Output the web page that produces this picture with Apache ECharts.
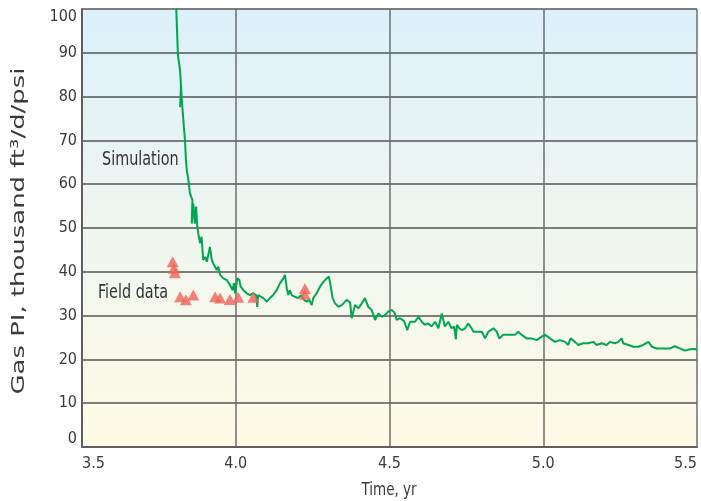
<!DOCTYPE html>
<html>
<head>
<meta charset="utf-8">
<script src="https://cdn.jsdelivr.net/npm/echarts@6/dist/echarts.min.js"></script>
<style>
  html, body { margin: 0; padding: 0; background: #ffffff; }
  #chart { width: 701px; height: 501px; }
</style>
</head>
<body>
<div id="chart"></div>
<script>
// Simulated gas productivity index: time (yr) and PI (thousand ft3/d/psi)
var simTime = [
  3.806, 3.812, 3.815, 3.819, 3.822, 3.819, 3.822, 3.825, 3.832, 3.835, 3.838, 3.841,
  3.846, 3.851, 3.859, 3.857, 3.862, 3.867, 3.871, 3.875, 3.878, 3.884, 3.889, 3.894,
  3.900, 3.906, 3.916, 3.922, 3.927, 3.933, 3.938, 3.943, 3.949, 3.960, 3.971, 3.981,
  3.990, 3.994, 3.998, 4.005, 4.012, 4.016, 4.025, 4.036, 4.046, 4.057, 4.066, 4.070,
  4.073, 4.079, 4.090, 4.101, 4.111, 4.122, 4.133, 4.144, 4.155, 4.160, 4.166, 4.171,
  4.176, 4.182, 4.193, 4.203, 4.214, 4.222, 4.231, 4.239, 4.247, 4.252, 4.263, 4.274,
  4.285, 4.296, 4.303, 4.309, 4.315, 4.323, 4.334, 4.345, 4.350, 4.361, 4.366, 4.372,
  4.377, 4.388, 4.399, 4.410, 4.420, 4.431, 4.442, 4.453, 4.464, 4.475, 4.485, 4.496,
  4.507, 4.518, 4.523, 4.534, 4.547, 4.558, 4.567, 4.583, 4.594, 4.605, 4.615, 4.626,
  4.637, 4.648, 4.659, 4.670, 4.680, 4.691, 4.702, 4.710, 4.716, 4.719, 4.727, 4.735,
  4.740, 4.746, 4.756, 4.767, 4.773, 4.784, 4.789, 4.800, 4.805, 4.811, 4.821, 4.838,
  4.849, 4.857, 4.870, 4.892, 4.908, 4.919, 4.930, 4.946, 4.962, 4.979, 4.995, 5.006,
  5.022, 5.038, 5.054, 5.071, 5.081, 5.089, 5.103, 5.114, 5.130, 5.146, 5.163, 5.174,
  5.190, 5.206, 5.217, 5.233, 5.244, 5.255, 5.260, 5.277, 5.293, 5.309, 5.325, 5.342,
  5.353, 5.369, 5.390, 5.412, 5.428, 5.444, 5.460, 5.477, 5.493, 5.500
];
var simPI = [
  101.0, 89.5, 88.0, 86.0, 82.0, 77.6, 82.6, 79.0, 72.4, 70.0, 65.5, 63.0,
  61.0, 57.9, 56.4, 51.0, 55.6, 51.0, 54.9, 50.3, 48.8, 46.5, 48.0, 42.7,
  43.4, 42.3, 45.7, 42.7, 41.9, 41.6, 40.4, 41.2, 39.3, 38.5, 38.1, 37.0,
  35.8, 37.4, 35.1, 38.5, 38.1, 36.6, 35.8, 35.1, 34.7, 35.1, 34.7, 32.0,
  34.7, 35.1, 34.0, 33.2, 34.0, 34.7, 35.8, 37.4, 38.5, 39.3, 36.2, 34.7,
  35.8, 34.7, 34.3, 34.0, 34.7, 33.6, 33.2, 33.6, 32.4, 34.0, 35.1, 36.6,
  37.7, 38.5, 38.9, 36.6, 34.0, 32.8, 32.0, 32.4, 32.0, 33.6, 33.6, 33.0,
  29.4, 32.4, 31.7, 32.8, 34.0, 32.0, 31.3, 29.0, 30.5, 29.7, 30.1, 30.9,
  31.3, 30.5, 29.0, 29.4, 28.8, 26.7, 28.6, 28.6, 29.7, 28.6, 27.9, 28.2,
  27.5, 28.6, 27.1, 30.5, 27.5, 28.6, 27.1, 27.5, 24.6, 27.9, 27.1, 26.7,
  26.7, 27.1, 28.2, 27.1, 26.3, 26.3, 26.3, 26.3, 26.0, 24.8, 26.3, 27.1,
  26.3, 24.8, 25.6, 25.6, 25.6, 26.3, 25.6, 24.8, 24.8, 24.4, 25.2, 25.6,
  24.8, 24.0, 24.4, 24.0, 23.3, 24.8, 24.0, 23.3, 23.7, 23.7, 24.0, 23.3,
  23.7, 23.3, 24.0, 23.7, 24.0, 24.8, 23.7, 23.3, 22.9, 22.9, 23.3, 24.0,
  22.9, 22.5, 22.5, 22.5, 23.0, 22.5, 22.0, 22.3, 22.4, 22.1
];

// Field measurements
var fieldTime = [3.795, 3.799, 3.802, 3.819, 3.838, 3.862, 3.933, 3.949, 3.981, 4.008, 4.057, 4.225, 4.225];
var fieldPI   = [42.3, 40.8, 39.8, 34.3, 33.6, 34.7, 34.3, 34.0, 33.7, 34.2, 34.2, 36.2, 34.9];

// Axis ticks
var xTicks = [3.5, 4.0, 4.5, 5.0, 5.5];
var yTicks = [0, 10, 20, 30, 40, 50, 60, 70, 80, 90, 100];

var FONT = '"DejaVu Sans Condensed", "DejaVu Sans", sans-serif';
var INK = '#3a3a3a';

var simData = simTime.map(function (t, i) { return [t, simPI[i]]; });
var fieldData = fieldTime.map(function (t, i) { return [t, fieldPI[i]]; });

var chart = echarts.init(document.getElementById('chart'), null, { renderer: 'canvas' });

chart.setOption({
  animation: false,
  backgroundColor: '#ffffff',
  grid: {
    left: 82, right: 4, top: 9, bottom: 54,
    containLabel: false,
    outerBoundsMode: 'none',
    show: true,
    borderWidth: 0,
    backgroundColor: new echarts.graphic.LinearGradient(0, 0, 0, 1, [
      { offset: 0, color: '#dcf0fb' },
      { offset: 0.5, color: '#eff6ef' },
      { offset: 1, color: '#fefae6' }
    ])
  },
  xAxis: {
    type: 'value',
    min: xTicks[0], max: xTicks[xTicks.length - 1], interval: 0.5,
    axisLine: { show: true, lineStyle: { color: '#5f5f5f', width: 2 } },
    axisTick: { show: false },
    axisLabel: {
      fontFamily: FONT, fontSize: 16, color: INK, margin: 9,
      alignMinLabel: 'left', alignMaxLabel: 'right',
      formatter: function (v) { return v.toFixed(1); }
    },
    splitLine: { show: true, lineStyle: { color: '#6e6e6e', width: 1.5 } }
  },
  yAxis: {
    type: 'value',
    min: yTicks[0], max: yTicks[yTicks.length - 1], interval: 10,
    axisLine: { show: true, lineStyle: { color: '#5f5f5f', width: 2 } },
    axisTick: { show: false },
    axisLabel: {
      fontFamily: FONT, fontSize: 16, color: INK, margin: 5,
      verticalAlignMinLabel: 'bottom', verticalAlignMaxLabel: 'top'
    },
    splitLine: { show: true, lineStyle: { color: '#555555', width: 1.5 } }
  },
  series: [
    {
      name: 'Simulation',
      type: 'line',
      data: simData,
      showSymbol: false,
      clip: true,
      lineStyle: { color: '#00a651', width: 2 },
      z: 3
    },
    {
      name: 'Field data',
      type: 'scatter',
      data: fieldData,
      symbol: 'triangle',
      symbolSize: [12, 11],
      itemStyle: { color: '#ef6457' },
      z: 4
    }
  ],
  graphic: [
    {
      // y-axis title, drawn rotated and stretched along its run
      type: 'text', x: 19, y: 231, rotation: Math.PI / 2, scaleX: 1.6,
      style: {
        text: 'Gas PI, thousand ft\u00b3/d/psi', font: '18px ' + FONT, fill: INK,
        align: 'center', verticalAlign: 'middle'
      }
    },
    {
      type: 'text', x: 389, y: 490, scaleY: 1.2,
      style: {
        text: 'Time, yr', font: '15px ' + FONT, fill: INK,
        align: 'center', verticalAlign: 'middle'
      }
    },
    {
      type: 'text', x: 102, y: 160, scaleY: 1.2,
      style: {
        text: 'Simulation', font: '16px ' + FONT, fill: '#333333',
        align: 'left', verticalAlign: 'middle'
      }
    },
    {
      type: 'text', x: 98, y: 293, scaleY: 1.2,
      style: {
        text: 'Field data', font: '16px ' + FONT, fill: '#333333',
        align: 'left', verticalAlign: 'middle'
      }
    }
  ]
});
</script>
</body>
</html>
